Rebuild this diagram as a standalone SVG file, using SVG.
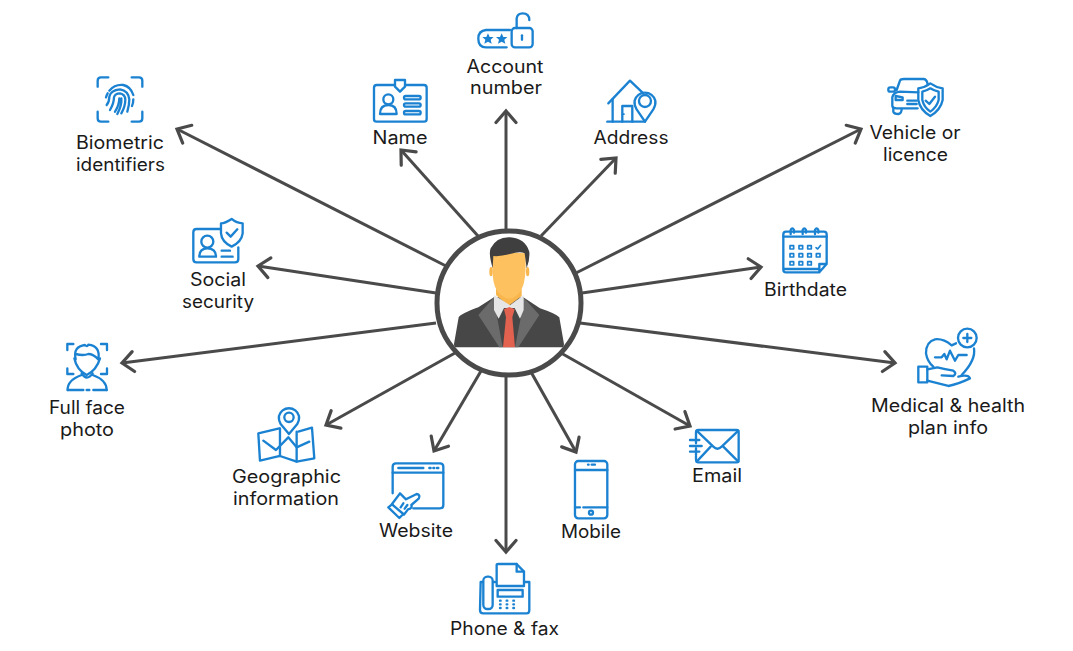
<svg xmlns="http://www.w3.org/2000/svg" width="1073" height="651" viewBox="0 0 1073 651">
<style>
text{font-family:"Inter","Liberation Sans",sans-serif;font-size:18px;fill:#1a1a1a;text-anchor:middle}
.c line{stroke:#4a4a4a;stroke-width:3;fill:none;marker-end:url(#a)}
.i{fill:none;stroke:#1b82d2;stroke-width:7;stroke-linecap:round;stroke-linejoin:round}
.f{fill:#1b82d2;stroke:none}
.w{fill:#fff}
</style>
<defs>
<marker id="a" viewBox="-20 -14 24 28" refX="0" refY="0" markerUnits="userSpaceOnUse" markerWidth="24" markerHeight="28" orient="auto" overflow="visible">
<path d="M-11.500,-10 L0,0 L-11.500,10" fill="none" stroke="#4a4a4a" stroke-width="3.200" stroke-linecap="round" stroke-linejoin="miter"/>
</marker>
</defs>
<rect width="1073" height="651" fill="#fff"/>
<g id="connectors" class="c">
<line x1="506" y1="229" x2="506" y2="111"/>
<line x1="478" y1="236" x2="401" y2="150"/>
<line x1="541" y1="236" x2="616" y2="158"/>
<line x1="576" y1="273" x2="861" y2="129"/>
<line x1="582" y1="293" x2="761" y2="267"/>
<line x1="580" y1="323" x2="895" y2="363"/>
<line x1="561" y1="353" x2="690" y2="426"/>
<line x1="531" y1="372" x2="576" y2="452"/>
<line x1="506" y1="377" x2="506" y2="552"/>
<line x1="481" y1="371" x2="434" y2="451"/>
<line x1="455" y1="353" x2="326" y2="425"/>
<line x1="436" y1="323" x2="122" y2="363"/>
<line x1="436" y1="293" x2="258" y2="266"/>
<line x1="446" y1="266" x2="177" y2="129"/>
</g>
<g id="center">
<circle cx="509" cy="303" r="72" fill="#fff" stroke="#4a4a4a" stroke-width="5"/>
<g transform="translate(420 220) scale(.3333)">
<path fill="#474747" d="M102,372 L116,292 Q122,282 175,262 L222,232 L310,232 L360,265 Q410,282 418,292 L432,372 Q432,382 424,382 L110,382 Q102,382 102,372Z"/>
<path fill="#6b6b6b" d="M222,232 L175,285 L238,382 L248,382 L232,295Z M310,232 L358,285 L295,382 L285,382 L302,295Z"/>
<path fill="#f8b64c" d="M228,205 L228,225 L265,258 L305,228 L305,205Z"/>
<path fill="#e6e6e6" d="M222,225 L222,270 L236,296 L252,264 L284,264 L300,296 L311,270 L311,225 L270,256Z"/>
<ellipse cx="213" cy="155" rx="5" ry="14" fill="#f8b64c"/>
<ellipse cx="323" cy="155" rx="5" ry="14" fill="#f8b64c"/>
<path fill="#fdc25f" d="M218,105 Q214,170 225,200 Q240,232 268,236 Q295,232 308,200 Q320,170 316,100 Q270,95 218,105Z"/>
<path fill="#3f3f3f" d="M218,145 Q205,100 212,85 Q230,50 270,52 Q315,55 328,95 Q330,120 320,145 L314,100 Q300,92 270,102 Q240,110 220,108Z"/>
<path fill="#e2614f" d="M252,268 L268,261 L284,268 L277,292 L258,292Z M258,292 L277,292 L285,382 L249,382Z"/>
</g>
</g>
<g id="account">
<g class="i" transform="translate(360 0) scale(.3333)">
<path d="M440,142 L378,142 Q355,142 355,116 Q355,92 378,90 L450,90"/>
<rect x="455" y="84" width="63" height="58" rx="10"/>
<path d="M470,84 L470,55 Q472,40 488,40 Q508,40 508,60"/>
<path d="M486,106 L486,119"/>
<path class="f" d="M384,100 L389,111 L401,111 L392,119 L395,131 L384,125 L373,131 L376,119 L367,111 L379,111Z M425,100 L430,111 L442,111 L433,119 L436,131 L425,125 L414,131 L417,119 L408,111 L420,111Z"/>
</g>
<text x="505" y="73" textLength="77" lengthAdjust="spacingAndGlyphs">Account</text>
<text x="506" y="94" textLength="72" lengthAdjust="spacingAndGlyphs">number</text>
</g>
<g id="name">
<g class="i" transform="translate(360 0) scale(.3333)">
<rect x="42" y="255" width="158" height="110" rx="8"/>
<path class="w" d="M105,240 L135,240 L135,260 L120,275 L105,260Z"/>
<circle cx="85" cy="298" r="15"/>
<path d="M60,342 Q60,315 85,315 Q110,315 110,342Z"/>
<rect x="132" y="288" width="50" height="10" rx="5"/>
<rect x="132" y="310" width="50" height="10" rx="5"/>
<rect x="132" y="333" width="50" height="10" rx="5"/>
</g>
<text x="400" y="144" textLength="55" lengthAdjust="spacingAndGlyphs">Name</text>
</g>
<g id="address">
<g class="i" transform="translate(360 0) scale(.3333)">
<path d="M745,310 L810,242 L850,280"/>
<path d="M758,298 L758,365"/>
<path d="M742,365 L855,365"/>
<path d="M787,365 L787,318 L817,318 L817,365"/>
<path class="w" d="M855,365 L830,328 Q822,314 824,302 A32,32 0 0 1 886,302 Q888,314 880,328Z"/>
<circle cx="855" cy="303" r="18"/>
<path class="f" d="M789,340 h5 v5 h-5z"/>
</g>
<text x="631" y="144" textLength="75" lengthAdjust="spacingAndGlyphs">Address</text>
</g>
<g id="biometric">
<g class="i" transform="translate(60 60) scale(.3333)">
<path d="M113,80 L113,62 Q113,52 123,52 L145,52 M215,52 L237,52 Q247,52 247,62 L247,80 M113,155 L113,175 Q113,185 123,185 L145,185 M247,155 L247,175 Q247,185 237,185 L215,185"/>
<path d="M148,92 Q165,72 190,75 Q212,80 220,105 M138,112 Q140,105 143,100 M140,135 Q148,125 148,110 Q152,90 180,88 Q205,92 208,118 Q208,135 202,155 M150,150 Q162,130 162,112 Q165,100 180,100 Q195,103 196,118 Q196,140 184,160 M165,155 Q178,135 178,115 M184,115 Q186,135 172,162 M220,118 Q220,130 216,138"/>
</g>
<text x="120" y="149" textLength="88" lengthAdjust="spacingAndGlyphs">Biometric</text>
<text x="120.500" y="171" textLength="89" lengthAdjust="spacingAndGlyphs">identifiers</text>
</g>
<g id="social">
<g class="i" transform="translate(60 60) scale(.3333)">
<path d="M480,507 L410,507 Q400,507 400,517 L400,597 Q400,607 410,607 L525,607 Q535,607 535,597 L535,562"/>
<path d="M515,477 Q495,490 483,490 L483,520 Q485,545 515,560 Q545,545 548,520 L548,490 Q530,490 515,477Z"/>
<path d="M500,518 L512,530 L532,508"/>
<circle cx="442" cy="545" r="18"/>
<path d="M418,590 Q418,565 442,565 Q468,565 468,590Z"/>
<path d="M485,572 L510,572 M485,590 L518,590"/>
</g>
<text x="218" y="286" textLength="56" lengthAdjust="spacingAndGlyphs">Social</text>
<text x="218" y="308" textLength="72" lengthAdjust="spacingAndGlyphs">security</text>
</g>
<g id="vehicle">
<g class="i" transform="translate(750 60) scale(.3333)">
<path d="M440,90 L450,62 Q452,57 462,57 L520,57 Q530,57 533,72"/>
<path d="M505,97 L450,95 Q430,97 427,112 L427,138 Q428,145 440,145 L503,145"/>
<rect x="415" y="82" width="20" height="13" rx="6"/>
<path d="M430,145 L430,155 Q432,162 445,162 Q455,160 455,147"/>
<path d="M437,108 L458,112 L458,120 L437,120Z"/>
<path d="M472,122 L500,122 M472,132 L500,132"/>
<path d="M541,70 Q525,82 505,85 L505,120 Q510,150 541,168 Q572,150 578,120 L578,85 Q558,82 541,70Z"/>
<path d="M541,85 Q530,92 517,95 L517,120 Q522,142 541,155 Q560,142 566,120 L566,95 Q552,92 541,85Z"/>
<path d="M527,122 L538,132 L555,110"/>
</g>
<text x="915" y="139" textLength="91" lengthAdjust="spacingAndGlyphs">Vehicle or</text>
<text x="915.500" y="161" textLength="65" lengthAdjust="spacingAndGlyphs">licence</text>
</g>
<g id="birthdate">
<g class="i" transform="translate(750 60) scale(.3333)">
<path d="M208,637 L108,637 Q100,637 100,629 L100,523 Q100,515 108,515 L222,515 Q230,515 230,523 L230,612 L208,637 L208,612 L230,612"/>
<path d="M100,530 L230,530 M103,627 L205,627"/>
<path d="M122,522 L122,510 Q127,500 132,510 L132,518 M158,522 L158,510 Q163,500 168,510 L168,518 M195,522 L195,510 Q200,500 205,510 L205,518"/>
<g stroke-width="5">
<rect x="120" y="557" width="11" height="10"/><rect x="147" y="557" width="11" height="10"/><rect x="173" y="557" width="11" height="10"/>
<path d="M198,563 L203,567 L212,556"/>
<rect x="120" y="581" width="11" height="10"/><rect x="147" y="581" width="11" height="10"/><rect x="173" y="581" width="11" height="10"/><rect x="199" y="581" width="11" height="10"/>
<rect x="120" y="605" width="11" height="10"/><rect x="147" y="605" width="11" height="10"/><rect x="173" y="605" width="11" height="10"/>
</g>
</g>
<text x="805.500" y="296" textLength="83" lengthAdjust="spacingAndGlyphs">Birthdate</text>
</g>
<g id="medical">
<g class="i" transform="translate(850 310) scale(.3333)">
<circle cx="352" cy="84" r="28"/>
<path d="M340,84 L364,84 M352,72 L352,96"/>
<path d="M318,100 L305,106 Q280,85 255,88 Q228,95 228,130 Q232,155 250,170"/>
<path d="M372,115 Q378,150 335,195"/>
<path d="M255,142 L275,142 L283,132 L290,148 L300,122 L315,152 L325,135 L350,135"/>
<rect x="205" y="170" width="27" height="47"/>
<path d="M232,178 L262,172 Q285,178 310,182 Q322,190 310,198 L275,196"/>
<path d="M232,212 L295,228 Q325,222 360,205 Q355,192 325,200"/>
</g>
<text x="948" y="412" textLength="154" lengthAdjust="spacingAndGlyphs">Medical &amp; health</text>
<text x="948" y="434" textLength="80" lengthAdjust="spacingAndGlyphs">plan info</text>
</g>
<g id="email">
<g class="i" transform="translate(660 400) scale(.3333)">
<path d="M108,112 L108,97 Q108,90 115,90 L230,90 Q236,90 236,97 L236,180 Q236,187 230,187 L115,187 Q108,187 108,178 L108,168"/>
<path d="M110,92 L160,140 Q172,152 185,140 L235,92 M110,185 L152,140 M235,185 L190,140"/>
<path d="M90,120 L118,120 M90,138 L125,138 M90,155 L118,155 M108,112 L108,130 M108,145 L108,165"/>
</g>
<text x="717" y="482" textLength="50" lengthAdjust="spacingAndGlyphs">Email</text>
</g>
<g id="mobile">
<g class="i" transform="translate(370 450) scale(.3333)">
<rect x="615" y="33" width="97" height="172" rx="10"/>
<path d="M615,60 L712,60 M615,172 L630,172 M640,172 L712,172 M654,44 L656,44 M665,44 L675,44"/>
<circle cx="663" cy="188" r="6"/>
</g>
<text x="591" y="538" textLength="60" lengthAdjust="spacingAndGlyphs">Mobile</text>
</g>
<g id="phone">
<g class="i" transform="translate(370 450) scale(.3333)">
<path d="M375,396 L332,396 L330,480 Q330,490 340,490 L470,490 Q478,490 478,480 L478,396 L465,396"/>
<rect class="w" x="340" y="380" width="28" height="97" rx="12"/>
<path class="w" d="M380,408 L380,345 Q380,342 385,342 L440,342 L462,365 L462,408Z"/>
<path d="M440,342 L440,365 L462,365"/>
<rect x="383" y="420" width="75" height="20"/>
<path stroke-dasharray="2 18" d="M390,452 L450,452 M390,463 L450,463 M390,474 L450,474"/>
</g>
<text x="504.500" y="635" textLength="109" lengthAdjust="spacingAndGlyphs">Phone &amp; fax</text>
</g>
<g id="website">
<g class="i" transform="translate(370 450) scale(.3333)">
<path d="M68,130 L68,50 Q68,40 78,40 L210,40 Q220,40 220,50 L220,165 Q220,175 210,175 L130,175"/>
<path d="M68,68 L220,68 M85,54 L160,54 M178,54 L182,54 M190,54 L193,54 M201,54 L205,54"/>
<path class="w" d="M66,162 L90,130 L108,148 L140,132 Q152,134 146,146 L124,165 Q128,175 114,178 L102,194 L82,184Z"/>
<path class="w" d="M55,172 L66,163 L100,192 L88,204Z"/>
<path d="M100,160 L92,172 M112,165 L104,176"/>
</g>
<text x="416" y="537" textLength="74" lengthAdjust="spacingAndGlyphs">Website</text>
</g>
<g id="geographic">
<g class="i" transform="translate(30 330) scale(.3333)">
<path d="M748,295 L685,310 L690,392 L750,378 L800,395 L853,385 L846,293 L805,305"/>
<path d="M750,295 L750,378 M800,305 L800,395"/>
<path d="M700,332 L738,360 L775,322 L800,352 L838,335"/>
<path class="w" d="M777,312 L752,282 Q745,268 747,258 A31,31 0 0 1 807,258 Q809,268 802,282Z"/>
<circle cx="777" cy="262" r="14"/>
</g>
<text x="286.500" y="483" textLength="109" lengthAdjust="spacingAndGlyphs">Geographic</text>
<text x="286" y="505" textLength="106" lengthAdjust="spacingAndGlyphs">information</text>
</g>
<g id="fullface">
<g class="i" transform="translate(30 330) scale(.3333)">
<path d="M112,60 L112,42 L130,42 M213,42 L231,42 L231,60 M112,115 L112,132 L130,132 M213,132 L231,132 L231,115"/>
<path d="M137,88 Q128,50 165,45 Q172,52 175,44 Q212,48 205,88 Q190,72 175,72 Q160,78 137,72"/>
<path d="M133,85 Q140,120 170,135 Q200,120 210,85"/>
<path d="M113,180 Q112,150 155,135 M230,180 Q230,150 188,135 M155,130 Q170,155 188,130"/>
<path d="M113,180 L160,180 M170,180 L178,180 M190,180 L230,180"/>
</g>
<text x="87" y="414" textLength="76" lengthAdjust="spacingAndGlyphs">Full face</text>
<text x="87" y="436" textLength="54" lengthAdjust="spacingAndGlyphs">photo</text>
</g>
</svg>
